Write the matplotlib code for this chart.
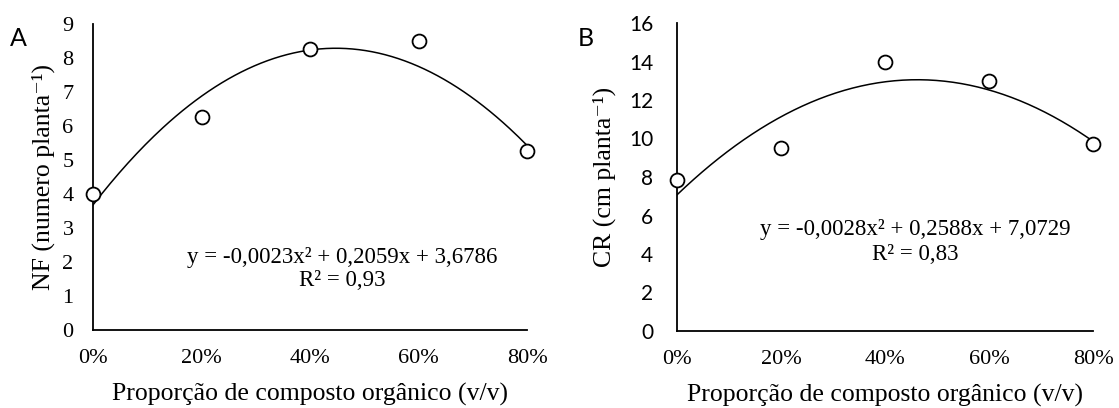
import numpy as np
import matplotlib.pyplot as plt

serif = 'Liberation Serif'
sans = 'Lato'
plt.rcParams['font.family'] = [serif, 'DejaVu Serif']

# dados
proporcao = [0, 20, 40, 60, 80]
nf = [4.0, 6.27, 8.27, 8.51, 5.27]
cr = [7.83, 9.53, 14.0, 13.01, 9.69]

# coeficientes das linhas de tendência (a, b, c)
coef_nf = [-0.0023, 0.2059, 3.6786]
coef_cr = [-0.0028, 0.2588, 7.0729]

fig = plt.figure(figsize=(11.19, 4.08), dpi=100)
axA = fig.add_axes([93 / 1119, 78 / 408, 434 / 1119, 306 / 408])
axB = fig.add_axes([677 / 1119, 77 / 408, 416 / 1119, 308 / 408])

xs = np.linspace(0, 80, 200)


def painel(ax, y, coef, ymax, ystep, ypad, ysize):
    ax.plot(xs, np.polyval(coef, xs), color='black', lw=1.1, zorder=2)
    ax.plot(proporcao, y, 'o', mfc='white', mec='black', ms=10, mew=1.3,
            clip_on=False, zorder=3)
    ax.set_xlim(0, 80)
    ax.set_ylim(0, ymax)
    ax.set_xticks(proporcao)
    ax.set_xticklabels([f'{p}%' for p in proporcao])
    ax.set_yticks(np.arange(0, ymax + 1, ystep))
    for s in ['top', 'right']:
        ax.spines[s].set_visible(False)
    for s in ['left', 'bottom']:
        ax.spines[s].set_linewidth(1.3)
    ax.tick_params(axis='x', length=0, pad=14, labelsize=16)
    ax.tick_params(axis='y', length=0, pad=ypad, labelsize=ysize)
    ax.set_xlabel('Proporção de composto orgânico (v/v)', fontsize=18.5, va='center')
    ax.xaxis.set_label_coords(0.5, -0.21)


painel(axA, nf, coef_nf, 9, 1, 14, 16)
painel(axB, cr, coef_cr, 16, 2, 17, 15)

# eixo y do painel B em fonte sem serifa
axB.set_yticks(np.arange(0, 17, 2))
axB.set_yticklabels([str(v) for v in range(0, 17, 2)], family=sans)

axA.set_ylabel('NF (numero planta⁻¹)', fontsize=18.5, va='center')
axA.yaxis.set_label_coords(-0.115, 0.5)
axB.set_ylabel('CR (cm planta⁻¹)', fontsize=18.5, va='center')
axB.yaxis.set_label_coords(-0.175, 0.5)

axA.text(0.574, (330 - 257) / 306, 'y = -0,0023x² + 0,2059x + 3,6786',
         transform=axA.transAxes, ha='center', va='center', fontsize=16.5)
axA.text(0.574, (330 - 281) / 306, 'R² = 0,93',
         transform=axA.transAxes, ha='center', va='center', fontsize=16.5)
axB.text((915 - 677) / 416, (330 - 229) / 308, 'y = -0,0028x² + 0,2588x + 7,0729',
         transform=axB.transAxes, ha='center', va='center', fontsize=16.5)
axB.text((915 - 677) / 416, (330 - 253) / 308, 'R² = 0,83',
         transform=axB.transAxes, ha='center', va='center', fontsize=16.5)

fig.text(18 / 1119, 1 - 39 / 408, 'A', fontsize=18, family=sans, ha='center', va='center')
fig.text(586 / 1119, 1 - 39 / 408, 'B', fontsize=18, family=sans, ha='center', va='center')

fig.savefig('out.png', dpi=100)
